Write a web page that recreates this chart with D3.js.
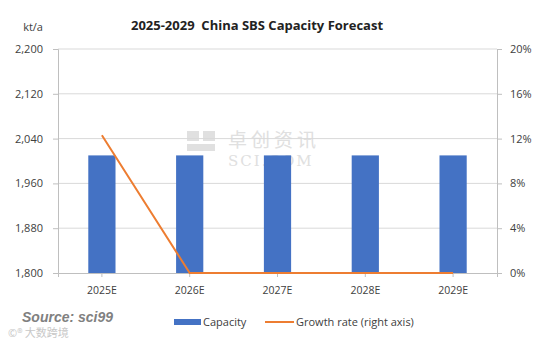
<!DOCTYPE html>
<html lang="en">
<head>
<meta charset="UTF-8">
<title>2025-2029 China SBS Capacity Forecast</title>
<script src="https://d3js.org/d3.v7.min.js"></script>
<style>
    body, html { margin: 0; padding: 0; background: #fff; }
    svg { display: block; font-family: "Open Sans", "Noto Sans", sans-serif; }
</style>
</head>
<body>
<div id="chart"></div>
<script>
const years = ["2025E", "2026E", "2027E", "2028E", "2029E"];
const capacity = [2010, 2010, 2010, 2010, 2010];
const growth = [0.123, 0, 0, 0, 0];
const leftTicks = [1800, 1880, 1960, 2040, 2120, 2200];
const rightTicks = [0, 0.04, 0.08, 0.12, 0.16, 0.20];

(function() {
    const W = 548, H = 342;
    const plotL = 58, plotR = 497, plotT = 49, plotB = 273;

    const svg = d3.select("#chart").append("svg")
        .attr("width", W).attr("height", H);

    const x = d3.scaleBand().domain(years).range([plotL, plotR]);
    const y = d3.scaleLinear().domain([1800, 2200]).range([plotB, plotT]);
    const y2 = d3.scaleLinear().domain([0, 0.2]).range([plotB, plotT]);

    // watermark
    const wm = svg.append("g").attr("fill", "#e0e0e0");
    wm.append("rect").attr("x", 187).attr("y", 131).attr("width", 12).attr("height", 10);
    wm.append("rect").attr("x", 203).attr("y", 131).attr("width", 12).attr("height", 10);
    wm.append("rect").attr("x", 187).attr("y", 144).attr("width", 28).attr("height", 7);
    wm.append("text").attr("x", 228).attr("y", 147).attr("font-size", 19)
        .attr("font-family", "Noto Sans CJK SC").attr("letter-spacing", 4).text("卓创资讯");
    wm.append("text").attr("x", 228).attr("y", 166).attr("font-size", 15)
        .attr("font-family", "DejaVu Serif").attr("letter-spacing", 2).text("SCI.COM");

    // gridlines
    svg.append("g").selectAll("line")
        .data(leftTicks.slice(1))
        .enter().append("line")
        .attr("x1", plotL).attr("x2", plotR)
        .attr("y1", d => y(d)).attr("y2", d => y(d))
        .attr("stroke", "#d9d9d9").attr("stroke-width", 1);

    // bars
    const barW = x.bandwidth() * 0.31;
    svg.append("g").selectAll("rect")
        .data(years)
        .enter().append("rect")
        .attr("x", d => x(d) + x.bandwidth() / 2 - barW / 2)
        .attr("y", (d, i) => y(capacity[i]))
        .attr("width", barW)
        .attr("height", (d, i) => plotB - y(capacity[i]))
        .attr("fill", "#4472C4");

    // axes
    const axisColor = "#bfbfbf";
    const yAxis = svg.append("g").attr("transform", `translate(${plotL},0)`)
        .call(d3.axisLeft(y).tickValues(leftTicks).tickFormat(d3.format(",")).tickSize(5).tickPadding(10));
    const yAxis2 = svg.append("g").attr("transform", `translate(${plotR},0)`)
        .call(d3.axisRight(y2).tickValues(rightTicks).tickFormat(d3.format(".0%")).tickSize(5).tickPadding(8));
    const xAxis = svg.append("g").attr("transform", `translate(0,${plotB})`)
        .call(d3.axisBottom(x).tickSize(4).tickPadding(10));
    [yAxis, yAxis2, xAxis].forEach(g => {
        g.selectAll("path, line").attr("stroke", axisColor);
        g.selectAll("text").attr("fill", "#404040").attr("font-size", 11)
            .attr("font-family", "Open Sans, sans-serif");
    });
    xAxis.selectAll("text").attr("font-size", 10.5);

    // growth line
    const line = d3.line()
        .x((d, i) => x(years[i]) + x.bandwidth() / 2)
        .y(d => y2(d));
    svg.append("path").datum(growth)
        .attr("d", line)
        .attr("fill", "none")
        .attr("stroke", "#ED7D31")
        .attr("stroke-width", 2);

    // title and unit
    svg.append("text").attr("x", 257).attr("y", 30).attr("text-anchor", "middle")
        .attr("font-size", 13).attr("font-weight", "bold").attr("fill", "#222")
        .attr("xml:space", "preserve")
        .text("2025-2029  China SBS Capacity Forecast");
    svg.append("text").attr("x", 43).attr("y", 31).attr("text-anchor", "end")
        .attr("font-size", 11).attr("fill", "#404040").text("kt/a");

    // source
    svg.append("text").attr("x", 22).attr("y", 322)
        .attr("font-size", 14).attr("font-weight", "bold").attr("font-style", "italic")
        .attr("font-family", "Liberation Sans, Arial, sans-serif")
        .attr("fill", "#808080").text("Source: sci99");
    svg.append("text").attr("x", 8).attr("y", 337)
        .attr("font-size", 11).attr("font-family", "Noto Sans CJK SC")
        .attr("fill", "#c8c8c8").text("©® 大数跨境");

    // legend
    const lg = svg.append("g");
    lg.append("rect").attr("x", 174).attr("y", 319).attr("width", 27).attr("height", 6).attr("fill", "#4472C4");
    lg.append("text").attr("x", 203).attr("y", 326).attr("font-size", 11).attr("fill", "#404040").text("Capacity");
    lg.append("line").attr("x1", 265).attr("x2", 294).attr("y1", 322).attr("y2", 322)
        .attr("stroke", "#ED7D31").attr("stroke-width", 2);
    lg.append("text").attr("x", 296).attr("y", 326).attr("font-size", 11).attr("fill", "#404040")
        .text("Growth rate (right axis)");
})();
</script>
</body>
</html>
